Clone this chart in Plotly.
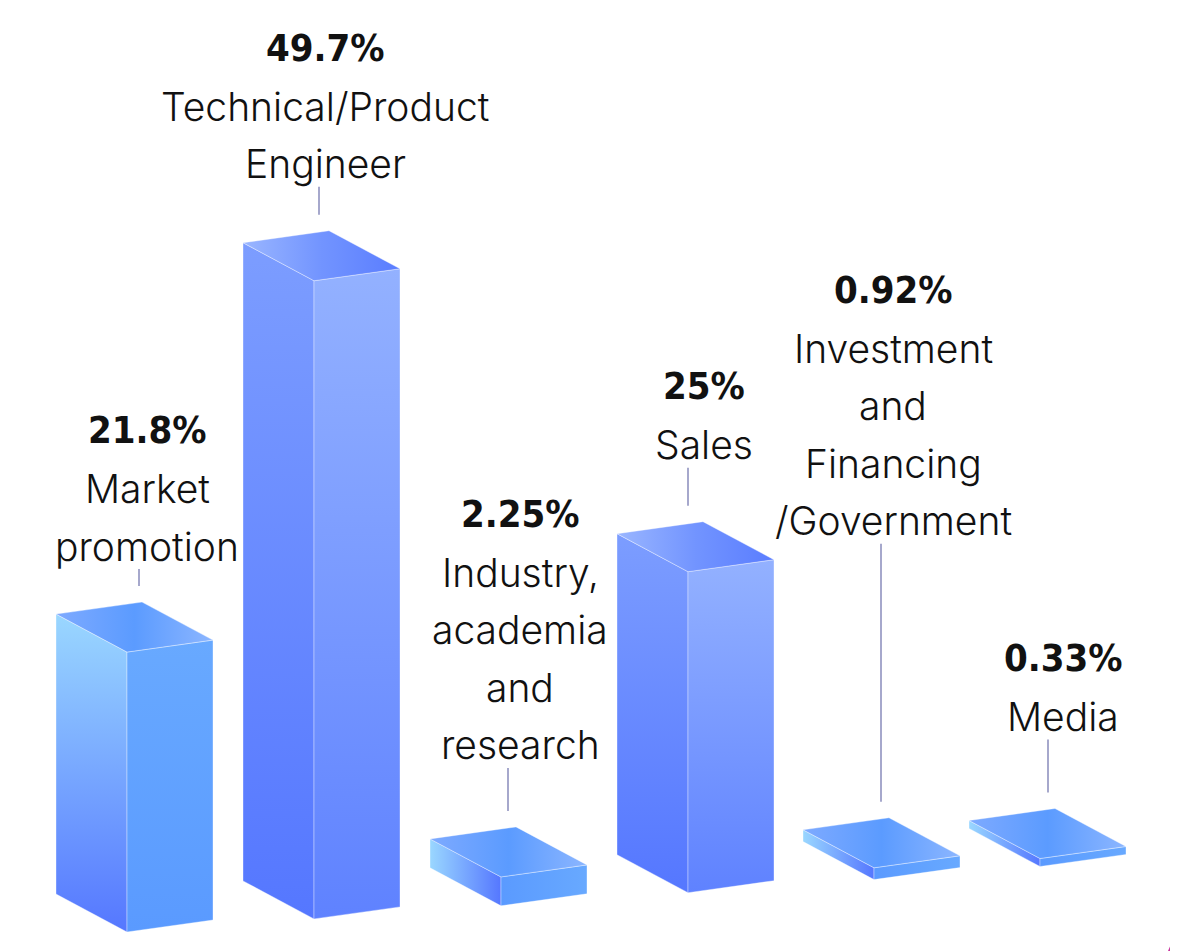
import plotly.graph_objects as go

# ---- data ----
categories = ["Market promotion", "Technical/Product Engineer",
              "Industry, academia and research", "Sales",
              "Investment and Financing /Government", "Media"]
values = [21.8, 49.7, 2.25, 25, 0.92, 0.33]
value_labels = ["21.8%", "49.7%", "2.25%", "25%", "0.92%", "0.33%"]
label_lines = [["Market", "promotion"],
               ["Technical/Product", "Engineer"],
               ["Industry,", "academia", "and", "research"],
               ["Sales"],
               ["Investment", "and", "Financing", "/Government"],
               ["Media"]]

# ---- layout / style constants ----
W, H = 1178, 951
PAGE_MARGIN = 8                                # default body margin of the html page
PX_PER_PCT = 12.84
MIN_THICK = 8
slot_x = [127, 314, 501, 688, 874, 1040]      # front-corner x of each bar slot
BASE_Y0, BASE_STEP = 932, 13.1                 # sloping baseline (pixels from top)
A = (71, -38)   # left-back -> front (depth vector)
B = (86, 12)    # front -> right (width vector)
label_lift = [41, 52, 67, 62, 282, 77]
text_dx = [20, 11, 19, 16, 19, 23]
line_dx = [12, 5, 7, 0, 7, 8]
LINE_GAP = 57.5
style_of = ["A", "B", "A", "B", "A", "A"]

STYLES = {
    "A": dict(left=("#9ad7ff", "#5577ff"), right=("#68a9ff", "#5a9aff"),
              top=("#7eaaff", "#5b9bff", "#8cb6ff")),
    "B": dict(left=("#7c9dff", "#5577ff"), right=("#93b1ff", "#5f82ff"),
              top=("#9ab6ff", "#7294ff", "#5a7dff")),
}

fig = go.Figure()
annotations = []
shapes = []

def face(xs, ys, gtype, cs, start, stop):
    fig.add_trace(go.Scatter(
        x=xs + [xs[0]], y=ys + [ys[0]], mode="lines", fill="toself",
        line=dict(width=0.8, color="rgba(255,255,255,0.45)"),
        fillgradient=dict(type=gtype, colorscale=cs, start=start, stop=stop),
        hoverinfo="skip", showlegend=False))

for i, v in enumerate(values):
    st = STYLES[style_of[i]]
    fx = slot_x[i]
    fy = H - (BASE_Y0 - BASE_STEP * i)
    h = max(v * PX_PER_PCT, MIN_THICK)
    tall = h > 60
    Lb = (fx - A[0], fy - A[1])
    Rb = (fx + B[0], fy + B[1])
    # left face
    xs = [Lb[0], fx, fx, Lb[0]]
    ys = [Lb[1], fy, fy + h, Lb[1] + h]
    if tall:
        face(xs, ys, "vertical", [[0, st["left"][1]], [1, st["left"][0]]], fy, Lb[1] + h)
    else:
        face(xs, ys, "horizontal", [[0, st["left"][0]], [1, st["left"][1]]], Lb[0], fx)
    # right face
    xs = [fx, Rb[0], Rb[0], fx]
    ys = [fy, Rb[1], Rb[1] + h, fy + h]
    if tall:
        face(xs, ys, "vertical", [[0, st["right"][1]], [1, st["right"][0]]], fy, Rb[1] + h)
    else:
        face(xs, ys, "horizontal", [[0, st["right"][1]], [1, st["right"][0]]], fx, Rb[0])
    # top face
    Bk = (Lb[0] + B[0], Lb[1] + B[1])
    xs = [Lb[0], fx, Rb[0], Bk[0]]
    ys = [Lb[1] + h, fy + h, Rb[1] + h, Bk[1] + h]
    face(xs, ys, "horizontal",
         [[0, st["top"][0]], [0.5, st["top"][1]], [1, st["top"][2]]], Lb[0], Rb[0])

    # labels
    back_top_px = H - (Bk[1] + h)
    last_base = back_top_px - label_lift[i]
    lines = [value_labels[i]] + label_lines[i]
    n = len(lines) - 1
    tx = fx + text_dx[i]
    for k, t in enumerate(lines):
        base = last_base - (n - k) * LINE_GAP
        if k == 0:
            fnt = dict(family="DejaVu Sans Condensed, Liberation Sans Narrow, Roboto",
                       size=38, color="#111111")
            txt = "<b>" + t + "</b>"
            off = 16
        else:
            fnt = dict(family="Inter, Roboto", size=39, color="#111111", weight=300)
            txt = t
            off = 15
        annotations.append(dict(x=tx, y=H - (base - off), text=txt, showarrow=False,
                                xanchor="center", yanchor="middle", font=fnt))
    # leader line
    lx = fx + line_dx[i]
    shapes.append(dict(type="line", x0=lx, x1=lx,
                       y0=H - (back_top_px - 16), y1=H - (last_base + 8),
                       line=dict(color="#a6a8cc", width=2), layer="below"))

# decorative corner
shapes.append(dict(type="path", path=f"M 1168,0 L {W},0 L {W},22 Z",
                   fillcolor="#c8369e", line=dict(width=0)))

M = PAGE_MARGIN
fig.update_layout(
    width=W - M, height=H - M, margin=dict(l=0, r=0, t=0, b=0),
    paper_bgcolor="white", plot_bgcolor="white",
    xaxis=dict(range=[M, W], visible=False, fixedrange=True),
    yaxis=dict(range=[0, H - M], visible=False, fixedrange=True),
    annotations=annotations, shapes=shapes,
)
fig.write_html("out.html")
